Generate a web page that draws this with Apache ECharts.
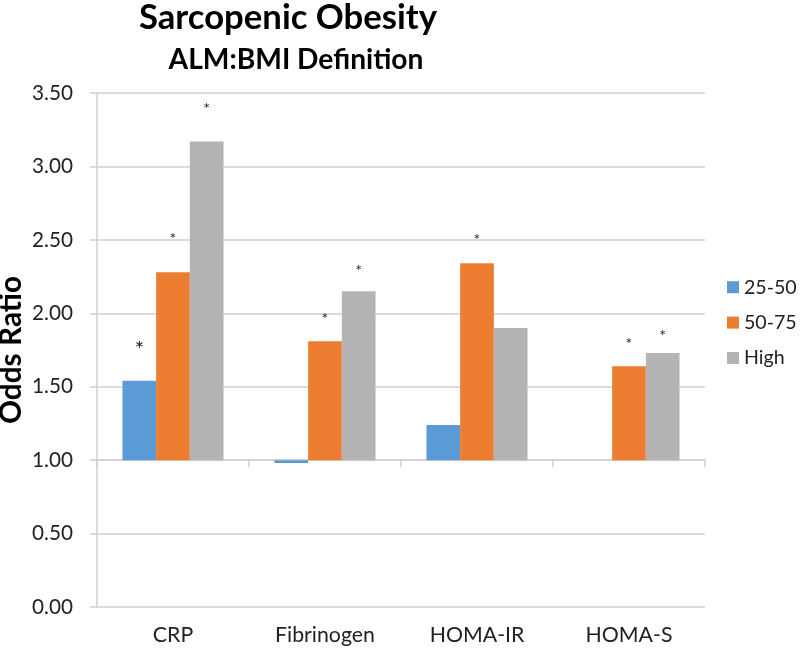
<!DOCTYPE html>
<html><head><meta charset="utf-8">
<script src="https://cdn.jsdelivr.net/npm/echarts@6/dist/echarts.min.js"></script>
<style>html,body{margin:0;padding:0;background:#fff}#c{width:800px;height:649px}</style>
</head><body><div id="c"></div>
<script>
// ---- data ----
const categories = ['CRP', 'Fibrinogen', 'HOMA-IR', 'HOMA-S'];
const seriesNames = ['25-50', '50-75', 'High'];
const odds2550 = [1.54, 0.98, 1.24, 1.00];
const odds5075 = [2.28, 1.81, 2.34, 1.64];
const oddsHigh = [3.17, 2.15, 1.90, 1.73];
// significance markers (*)
const sig2550 = [true, false, false, false];
const sig5075 = [true, true, true, true];
const sigHigh = [true, true, false, true];
const yTickLabels = ['0.00', '0.50', '1.00', '1.50', '2.00', '2.50', '3.00', '3.50'];
const baseline = 1.0;

// ---- styling (not data) ----
const colors = ['#5b9bd5', '#ed7d31', '#b4b4b4'];
const FONT = 'Lato';
const cv = document.createElement('canvas').getContext('2d');
function fit(text, weight, targetWidth) {
  cv.font = weight + ' 100px ' + FONT;
  return Math.round(1000 * targetWidth / cv.measureText(text).width) / 10;
}
const titleSize = fit('Sarcopenic Obesity', 'bold', 298);
const subSize = fit('ALM:BMI Definition', 'bold', 255);
const nameSize = fit('Odds Ratio', 'bold', 148);
const tickSize = fit('3.50', 'normal', 41);
const catSize = fit('Fibrinogen', 'normal', 100);
const legSize = fit('50-75', 'normal', 52.7);

const starGap = [
  [20, 0, 0, 0],
  [25, 14, 16, 14],
  [25, 12, 0, 9]
];
const starSize = [[22, 16, 16, 16], [16, 16, 16, 16], [16, 16, 16, 16]];

const values = [odds2550, odds5075, oddsHigh];
const sigs = [sig2550, sig5075, sigHigh];

const series = seriesNames.map((name, si) => ({
  name,
  type: 'bar',
  xAxisIndex: 0,
  barGap: '0%',
  barCategoryGap: '33.5%',
  itemStyle: { color: colors[si] },
  data: values[si].map((v, ci) => ({
    value: +(v - baseline).toFixed(4),
    label: sigs[si][ci] ? {
      show: true, position: 'top', formatter: '*',
      distance: starGap[si][ci], fontSize: starSize[si][ci],
      color: '#222', fontFamily: FONT
    } : { show: false }
  }))
}));

const gridLeft = 97, gridTop = 93, gridBottom = 42;
const chart = echarts.init(document.getElementById('c'), null, { renderer: 'canvas' });
chart.setOption({
  animation: false,
  color: colors,
  textStyle: { fontFamily: FONT },
  title: [
    { text: 'Sarcopenic Obesity', left: 288, top: 18 - titleSize / 2, textAlign: 'center', padding: 0,
      textStyle: { fontFamily: FONT, fontWeight: 'bold', fontSize: titleSize, color: '#000' } },
    { text: 'ALM:BMI Definition', left: 296, top: 60 - subSize / 2, textAlign: 'center', padding: 0,
      textStyle: { fontFamily: FONT, fontWeight: 'bold', fontSize: subSize, color: '#000' } }
  ],
  legend: {
    orient: 'vertical', left: 727, top: 287 - legSize / 2, padding: 0,
    itemWidth: 12, itemHeight: 12, itemGap: 35 - legSize,
    icon: 'rect',
    textStyle: { fontFamily: FONT, fontSize: legSize, color: '#222' },
    data: seriesNames
  },
  grid: { left: gridLeft, right: 95, top: gridTop, bottom: gridBottom,
          containLabel: false, outerBoundsMode: 'none' },
  xAxis: [
    {
      type: 'category', data: categories,
      axisLine: { show: true, onZero: true, lineStyle: { color: '#d0d0d0', width: 1.5 } },
      axisTick: { show: true, length: 7, lineStyle: { color: '#d0d0d0', width: 1.5 } },
      axisLabel: { show: false }
    },
    {
      type: 'category', data: categories, position: 'bottom',
      axisLine: { show: false, onZero: false }, axisTick: { show: false },
      axisLabel: { show: true, fontFamily: FONT, fontSize: catSize, color: '#222', margin: 28 - catSize / 2 }
    }
  ],
  yAxis: {
    type: 'value', min: 0 - baseline, max: 3.5 - baseline, interval: 0.5,
    name: 'Odds Ratio', nameLocation: 'middle', nameGap: 71, nameMoveOverlap: false,
    nameTextStyle: { fontFamily: FONT, fontWeight: 'bold', fontSize: nameSize, color: '#000' },
    axisLine: { show: true, lineStyle: { color: '#d0d0d0', width: 1.5 } },
    axisTick: { show: true, length: 7, lineStyle: { color: '#d0d0d0', width: 1.5 } },
    splitLine: { show: true, lineStyle: { color: '#d0d0d0', width: 1.5 } },
    axisLabel: {
      fontFamily: FONT, fontSize: tickSize, color: '#222', margin: 24,
      formatter: (v) => {
        const i = Math.round((v + baseline) / 0.5);
        return yTickLabels[i] !== undefined ? yTickLabels[i] : '';
      }
    }
  },
  series
});
</script>
</body></html>
